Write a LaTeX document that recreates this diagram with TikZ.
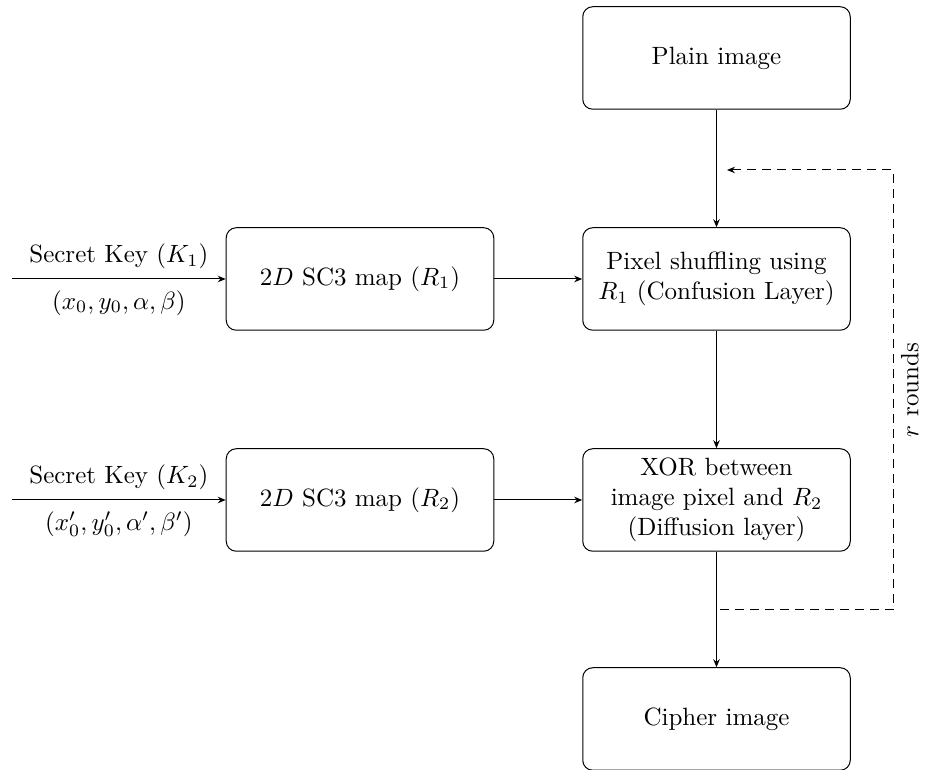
\documentclass[tikz,border=0pt]{standalone}
\usetikzlibrary{arrows.meta}
\begin{document}
\begin{tikzpicture}[x=0.4pt,y=-0.4pt,
  blk/.style={draw, rounded corners=4pt, minimum width=107pt, minimum height=41pt, align=center, inner sep=2pt},
  arr/.style={-{Stealth[length=3.2pt,width=2.6pt]}},
  loopline/.style={dashed, dash pattern=on 3.5pt off 2.5pt}]
\useasboundingbox (0,0) rectangle (935,770);
% main chain
\node[blk] (plain)  at (716.5,58)  {Plain image};
\node[blk] (shuf)   at (716.5,279) {Pixel shuffling using\\$R_1$ (Confusion Layer)};
\node[blk] (xor)    at (716.5,500) {XOR between\\image pixel and $R_2$\\(Diffusion layer)};
\node[blk] (cipher) at (716.5,719) {Cipher image};
% key-driven maps
\node[blk] (map1) at (360,279) {$2D$ SC3 map ($R_1$)};
\node[blk] (map2) at (360,500) {$2D$ SC3 map ($R_2$)};
% key inputs
\coordinate (k1) at (12,279);
\coordinate (k2) at (12,500);
\draw[arr] (k1) -- node[above=0.5pt] {Secret Key ($K_1$)} node[below=1pt] {$(x_0,y_0,\alpha,\beta)$} (map1);
\draw[arr] (k2) -- node[above=0.5pt] {Secret Key ($K_2$)} node[below=1pt] {$(x'_0,y'_0,\alpha',\beta')$} (map2);
\draw[arr] (map1) -- (shuf);
\draw[arr] (map2) -- (xor);
\draw[arr] (plain) -- (shuf);
\draw[arr] (shuf) -- (xor);
\draw[arr] (xor) -- (cipher);
% feedback for r rounds
\coordinate (fb1) at (720,610);
\coordinate (fb2) at (893,610);
\coordinate (fb3) at (893,170);
\coordinate (fb4) at (727,170);
\draw[loopline, arr] (fb1) -- (fb2) -- node[midway, rotate=90, anchor=north, inner sep=3pt] {$r$ rounds} (fb3) -- (fb4);
\end{tikzpicture}
\end{document}
